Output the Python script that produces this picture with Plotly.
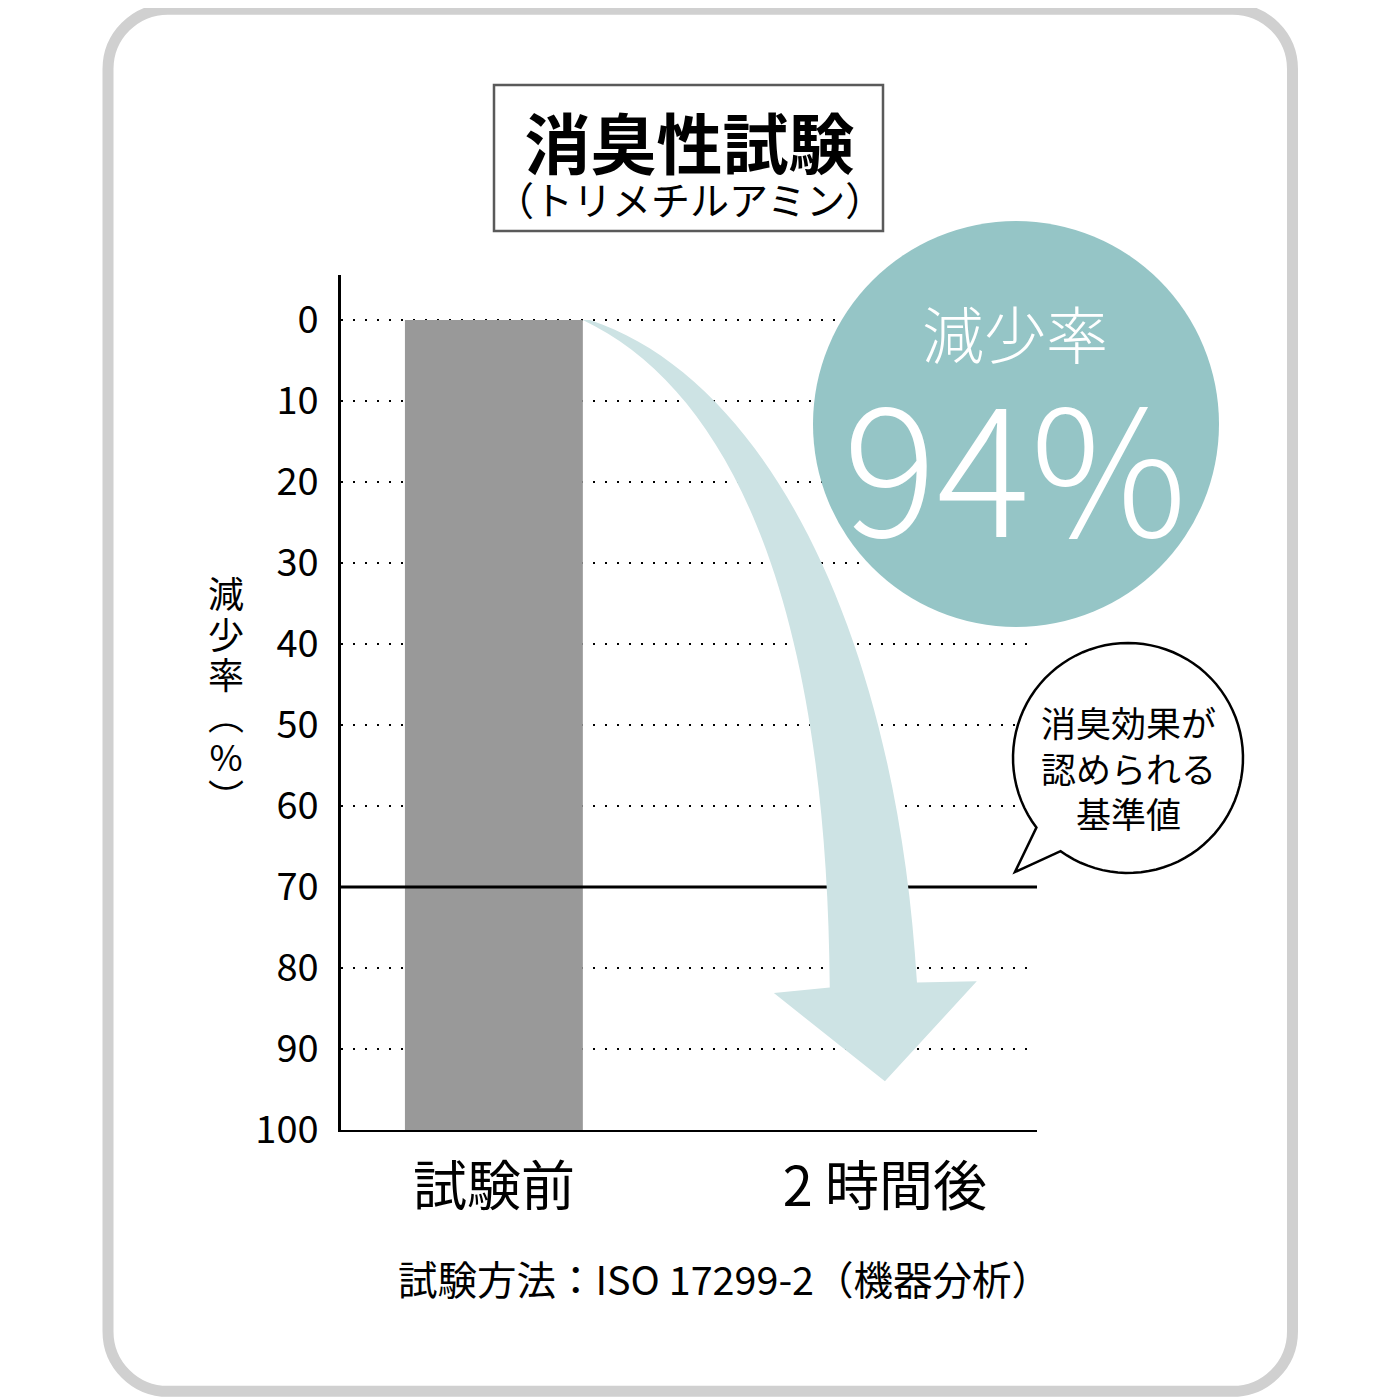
import numpy as np
import plotly.graph_objects as go

# The page body keeps its default 8px margin and the photo of the page comes
# out slightly squeezed vertically, so reference pixels are mapped onto the
# figure through OFF (margin) and SY (vertical squeeze).
PAGE = 1400
OFF = 8
SY = 1400 / 1424
FIG_W = PAGE - 2 * OFF
FIG_H = 1424 - 2 * OFF

# ---------------------------------------------------------------------------
# Chart data
# ---------------------------------------------------------------------------
categories = ["試験前", "2 時間後"]
bar_values = [100, 0]          # 試験前 fills the whole scale
reduction = 94                 # 減少率 after 2 hours (%)
threshold = 70                 # 消臭効果が認められる基準値
y_ticks = list(range(0, 101, 10))

title = "消臭性試験"
subtitle = "（トリメチルアミン）"
badge_label = "減少率"
bubble_lines = ["消臭効果が", "認められる", "基準値"]
y_title_chars = ["減", "少", "率", "︵", "%", "︶"]
footnote = "試験方法：ISO 17299-2（機器分析）"

FONT = "Noto Sans CJK JP"
BAR_W = 0.455
ARROW_COLOR = "#cde3e4"
BADGE_COLOR = "#95c5c6"
LINE_SPACING = 1.3             # plotly's multi-line spacing, in em of the base font


def px(x):
    return (x - OFF) / FIG_W


def py(y):
    return 1 - (y / SY - OFF) / FIG_H


def base_size(gap):
    """Base font size that gives a line gap of `gap` reference pixels."""
    return gap / SY / LINE_SPACING


def sized(text, size):
    return f'<span style="font-size:{size}px">{text}</span>'


def rounded_rect(x0, y0, x1, y1, r):
    """Rounded rectangle path in paper coords from pixel corners."""
    k = 0.5523 * r
    pts = [
        f"M {px(x0 + r)},{py(y0)}",
        f"L {px(x1 - r)},{py(y0)}",
        f"C {px(x1 - r + k)},{py(y0)} {px(x1)},{py(y0 + r - k)} {px(x1)},{py(y0 + r)}",
        f"L {px(x1)},{py(y1 - r)}",
        f"C {px(x1)},{py(y1 - r + k)} {px(x1 - r + k)},{py(y1)} {px(x1 - r)},{py(y1)}",
        f"L {px(x0 + r)},{py(y1)}",
        f"C {px(x0 + r - k)},{py(y1)} {px(x0)},{py(y1 - r + k)} {px(x0)},{py(y1 - r)}",
        f"L {px(x0)},{py(y0 + r)}",
        f"C {px(x0)},{py(y0 + r - k)} {px(x0 + r - k)},{py(y0)} {px(x0 + r)},{py(y0)}",
        "Z",
    ]
    return " ".join(pts)


def arrow_path(sx, sy, tx, ty):
    """Curved arrow from the bar top corner (sx, sy) to the tip (tx, ty), data coords."""
    def p(x, y):
        return f"{x},{y}"
    lb = (tx - 0.141, ty - 11.6)     # shaft left bottom
    hl = (tx - 0.284, ty - 10.9)     # head left
    hr = (tx + 0.235, ty - 12.35)    # head right
    rb = (tx + 0.082, ty - 12.2)     # shaft right bottom
    return (
        f"M {p(sx, sy)} "
        f"C {p(sx + 0.376, sy + 8.6)} {p(tx - 0.148, sy + 34.6)} {p(*lb)} "
        f"L {p(*hl)} L {p(tx, ty)} L {p(*hr)} L {p(*rb)} "
        f"C {p(tx + 0.030, sy + 39.5)} {p(sx + 0.478, sy + 7.4)} {p(sx + 0.018, sy)} Z"
    )


def bubble_path(cx, cy, r, a1, a2, tip):
    ang = np.radians(np.linspace(a1, a2, 90))
    xs = cx + r * np.cos(ang)
    ys = cy + r * np.sin(ang)
    parts = [f"M {px(xs[0])},{py(ys[0])}"]
    parts += [f"L {px(x)},{py(y)}" for x, y in zip(xs[1:], ys[1:])]
    parts.append(f"L {px(tip[0])},{py(tip[1])} Z")
    return " ".join(parts)


fig = go.Figure(go.Bar(
    x=categories,
    y=bar_values,
    width=BAR_W,
    marker_color="#999999",
    marker_line_width=0,
    hoverinfo="skip",
))

shapes = [
    dict(type="path", xref="paper", yref="paper", layer="below",
         path=rounded_rect(108, 9, 1292.5, 1391.5, 60),
         line=dict(color="#d0d0d0", width=11)),
    dict(type="rect", xref="paper", yref="paper",
         x0=px(494), x1=px(883), y0=py(85), y1=py(231),
         line=dict(color="#5a5a5a", width=2.5)),
    dict(type="line", xref="x domain", yref="y", x0=0, x1=1,
         y0=threshold, y1=threshold, layer="above",
         line=dict(color="black", width=3)),
    dict(type="path", xref="x", yref="y", layer="above",
         path=arrow_path(BAR_W / 2, 0, 1, reduction),
         fillcolor=ARROW_COLOR, line=dict(width=0)),
    dict(type="circle", xref="paper", yref="paper", layer="above",
         x0=px(813), x1=px(1219), y0=py(627), y1=py(221),
         fillcolor=BADGE_COLOR, line=dict(width=0)),
    dict(type="path", xref="paper", yref="paper", layer="above",
         path=bubble_path(1128, 758, 115, 142.8, 485.9, (1015, 872)),
         fillcolor="white", line=dict(color="black", width=2.5)),
]

annotations = [
    # title block: bold title over the smaller subtitle
    dict(text=f"<b>{sized(title, 66)}</b><br>{sized(subtitle, 39)}",
         x=px(689), y=py(159), font=dict(size=base_size(45.4))),
    # badge: 減少率 over 94%
    dict(text=f"{sized(badge_label, 62)}<br>{sized(f'{reduction}%', 175)}",
         x=px(1015), y=py(437),
         font=dict(size=base_size(175.4), color="white", weight=300)),
    dict(text="<br>".join(bubble_lines), x=px(1128), y=py(767), font=dict(size=35)),
    # vertical y-axis title, one glyph per line
    dict(text="<br>".join(sized(c, 36) for c in y_title_chars),
         x=px(226), y=py(693), font=dict(size=base_size(40))),
    dict(text=footnote, x=px(724), y=py(1278), font=dict(size=39.5)),
]

for a in annotations:
    a.update(xref="paper", yref="paper", xanchor="center", yanchor="middle",
             align="center", showarrow=False)
    a["font"].setdefault("color", "black")
    a["font"]["family"] = FONT

fig.update_layout(
    width=FIG_W,
    height=FIG_H,
    autosize=False,
    margin=dict(l=0, r=0, t=0, b=0),
    paper_bgcolor="white",
    plot_bgcolor="white",
    showlegend=False,
    font=dict(family=FONT, color="black"),
    shapes=shapes,
    annotations=annotations,
    xaxis=dict(
        type="category",
        domain=[px(341), px(1037)],
        range=[-0.391, 1.389],
        showline=True, linecolor="black", linewidth=2,
        showgrid=False, zeroline=False, ticks="",
        tickfont=dict(size=54),
        ticklabelstandoff=9,
        fixedrange=True,
    ),
    yaxis=dict(
        domain=[py(1130), py(275)],
        range=[100, -5.56],
        tickvals=y_ticks,
        showline=True, linecolor="black", linewidth=2.5,
        showgrid=True, gridcolor="black", gridwidth=2, griddash="2px,10px",
        zeroline=False, ticks="",
        tickfont=dict(size=38),
        ticklabelstandoff=12,
        fixedrange=True,
    ),
)

fig.write_html("out.html")
